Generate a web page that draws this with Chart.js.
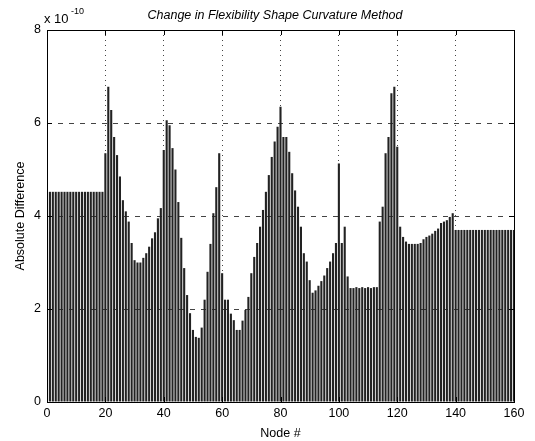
<!DOCTYPE html>
<html>
<head>
<meta charset="utf-8">
<script src="https://cdn.jsdelivr.net/npm/chart.js@4"></script>
<style>
  html, body { margin: 0; padding: 0; background: #fff; }
</style>
</head>
<body>
<canvas id="chart" width="535" height="441"></canvas>
<script>
// values, in units of 1e-10
const nodes = Array.from({ length: 160 }, (_, i) => i + 1);
const absDiff = [
  4.52, 4.52, 4.52, 4.52, 4.52, 4.52, 4.52, 4.52, 4.52, 4.52,
  4.52, 4.52, 4.52, 4.52, 4.52, 4.52, 4.52, 4.52, 4.52, 5.35,
  6.78, 6.28, 5.70, 5.31, 4.85, 4.34, 4.10, 3.88, 3.42, 3.05,
  3.00, 3.00, 3.10, 3.20, 3.34, 3.52, 3.65, 3.95, 4.17, 5.42,
  6.06, 5.95, 5.46, 5.00, 4.30, 3.53, 2.88, 2.30, 1.91, 1.55,
  1.40, 1.38, 1.60, 2.20, 2.80, 3.40, 4.06, 4.62, 5.35, 2.77,
  2.20, 2.20, 1.90, 1.76, 1.55, 1.55, 1.75, 1.98, 2.26, 2.77,
  3.12, 3.42, 3.77, 4.13, 4.52, 4.88, 5.27, 5.60, 5.92, 6.35,
  5.70, 5.70, 5.38, 4.92, 4.55, 4.20, 3.77, 3.20, 3.02, 2.62,
  2.35, 2.40, 2.50, 2.60, 2.72, 2.88, 3.02, 3.20, 3.42, 5.13,
  3.42, 3.77, 2.70, 2.45, 2.45, 2.47, 2.45, 2.47, 2.45, 2.47,
  2.45, 2.47, 2.47, 3.88, 4.20, 5.35, 5.70, 6.64, 6.78, 5.49,
  3.77, 3.55, 3.45, 3.40, 3.40, 3.40, 3.40, 3.42, 3.50, 3.55,
  3.58, 3.62, 3.68, 3.73, 3.85, 3.88, 3.91, 3.98, 4.06, 3.70,
  3.70, 3.70, 3.70, 3.70, 3.70, 3.70, 3.70, 3.70, 3.70, 3.70,
  3.70, 3.70, 3.70, 3.70, 3.70, 3.70, 3.70, 3.70, 3.70, 3.70
];
const xTicks = [0, 20, 40, 60, 80, 100, 120, 140, 160];
const yTicks = [0, 2, 4, 6, 8];

const FONT = "'Liberation Sans', Arial, sans-serif";

// MATLAB style box, inward ticks, title and exponent label
const matlabFrame = {
  id: "matlabFrame",
  afterDraw(chart) {
    const { ctx, chartArea: a, scales } = chart;
    ctx.save();
    ctx.strokeStyle = "#000";
    ctx.lineWidth = 1;
    ctx.strokeRect(a.left + 0.5, a.top + 0.5, a.right - a.left, a.bottom - a.top);
    ctx.beginPath();
    xTicks.forEach(v => {
      const px = Math.round(scales.x.getPixelForValue(v)) + 0.5;
      ctx.moveTo(px, a.bottom); ctx.lineTo(px, a.bottom - 5);
      ctx.moveTo(px, a.top); ctx.lineTo(px, a.top + 5);
    });
    yTicks.forEach(v => {
      const py = Math.round(scales.y.getPixelForValue(v)) + 0.5;
      ctx.moveTo(a.left, py); ctx.lineTo(a.left + 5, py);
      ctx.moveTo(a.right, py); ctx.lineTo(a.right - 5, py);
    });
    ctx.stroke();

    ctx.fillStyle = "#000";
    ctx.textBaseline = "alphabetic";
    ctx.textAlign = "center";
    ctx.font = "italic 12.5px " + FONT;
    ctx.fillText("Change in Flexibility Shape Curvature Method", 275, 19);

    ctx.textAlign = "left";
    ctx.font = "13px " + FONT;
    ctx.fillText("x 10", 44, 23);
    ctx.font = "9px " + FONT;
    ctx.fillText("-10", 71, 14);
    ctx.restore();
  }
};

new Chart(document.getElementById("chart"), {
  type: "bar",
  data: {
    datasets: [{
      label: "Absolute Difference",
      data: nodes.map((n, i) => ({ x: n, y: absDiff[i] })),
      backgroundColor: "#222222",
      borderWidth: 0,
      barPercentage: 0.72,
      categoryPercentage: 1.0
    }]
  },
  options: {
    responsive: false,
    animation: false,
    layout: { padding: { top: 30, right: 21, left: 0, bottom: 0 } },
    plugins: {
      legend: { display: false },
      tooltip: { enabled: false }
    },
    scales: {
      x: {
        type: "linear",
        min: 0,
        max: 160,
        offset: false,
        afterFit(scale) { scale.height = 39; },
        afterBuildTicks(scale) { scale.ticks = xTicks.map(v => ({ value: v })); },
        grid: {
          offset: false,
          drawTicks: false,
          color: ctx => (ctx.tick && (ctx.tick.value === 0 || ctx.tick.value === 160)) ? "transparent" : "#444"
        },
        border: { display: false, dash: [1, 4] },
        ticks: { color: "#000", padding: 4, font: { family: FONT, size: 12.5 }, maxRotation: 0 },
        title: {
          display: true,
          text: "Node #",
          color: "#000",
          font: { family: FONT, size: 12.5 },
          padding: { top: 2, bottom: 0 }
        }
      },
      y: {
        min: 0,
        max: 8,
        afterFit(scale) { scale.width = 47; },
        afterBuildTicks(scale) { scale.ticks = yTicks.map(v => ({ value: v })); },
        grid: {
          drawTicks: false,
          color: ctx => (ctx.tick && (ctx.tick.value === 0 || ctx.tick.value === 8)) ? "transparent" : "#444"
        },
        border: { display: false, dash: [5, 6] },
        ticks: { color: "#000", padding: 6, font: { family: FONT, size: 12.5 } },
        title: {
          display: true,
          text: "Absolute Difference",
          color: "#000",
          font: { family: FONT, size: 12.5 },
          padding: { top: 13, bottom: 4 }
        }
      }
    }
  },
  plugins: [matlabFrame]
});
</script>
</body>
</html>
